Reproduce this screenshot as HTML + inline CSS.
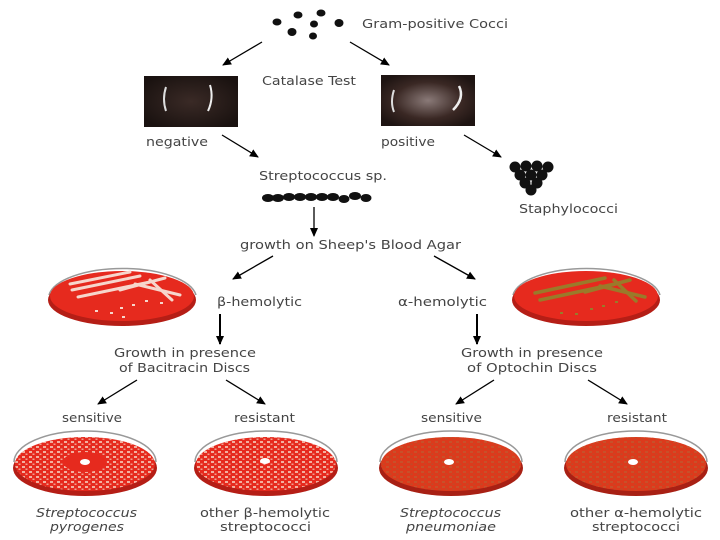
<!DOCTYPE html>
<html><head><meta charset="utf-8"><style>
html,body{margin:0;padding:0;background:#fff;}
svg{display:block;}
text{font-family:"DejaVu Sans","Liberation Sans",sans-serif;font-size:12px;fill:#444;}
</style></head><body>
<svg width="720" height="540" viewBox="0 0 720 540" xmlns="http://www.w3.org/2000/svg">
<defs>
<marker id="ah" markerWidth="10" markerHeight="10" refX="8" refY="5" orient="auto" markerUnits="userSpaceOnUse">
<path d="M0,1 L9,5 L0,9 Z" fill="#000"/></marker>
<pattern id="sp" width="7" height="5" patternUnits="userSpaceOnUse">
<rect x="1" y="1" width="3" height="2" fill="#f3b0a0"/><rect x="4.5" y="3.5" width="2" height="1.5" fill="#f0a090"/></pattern>
<pattern id="sp2" width="7" height="5" patternUnits="userSpaceOnUse">
<rect x="1" y="1" width="3" height="2" fill="#c8502a"/><rect x="4.5" y="3.5" width="2" height="1.5" fill="#c04a28"/></pattern>
<radialGradient id="ph" cx="0.5" cy="0.5" r="0.6"><stop offset="0" stop-color="#8a7a78"/><stop offset="0.6" stop-color="#3a2824"/><stop offset="1" stop-color="#1e1412"/></radialGradient>
<radialGradient id="nh" cx="0.5" cy="0.5" r="0.6"><stop offset="0" stop-color="#3a2a26"/><stop offset="1" stop-color="#1a1210"/></radialGradient>
</defs>

<g fill="#111">
<ellipse cx="277" cy="22" rx="4.5" ry="3.5"/><ellipse cx="298" cy="15" rx="4.5" ry="3.5"/><ellipse cx="321" cy="13" rx="4.5" ry="3.5"/>
<ellipse cx="314" cy="24" rx="4" ry="3.5"/><ellipse cx="339" cy="23" rx="4.5" ry="4"/><ellipse cx="292" cy="32" rx="4.5" ry="4"/><ellipse cx="313" cy="36" rx="4" ry="3.5"/>
</g>
<text x="362" y="28" textLength="146" lengthAdjust="spacingAndGlyphs">Gram-positive Cocci</text>
<g stroke="#000" stroke-width="1.3" marker-end="url(#ah)">
<line x1="262" y1="42" x2="223" y2="65"/><line x1="350" y1="42" x2="389" y2="65"/>
<line x1="222" y1="135" x2="258" y2="157"/><line x1="464" y1="135" x2="501" y2="157"/>
<line x1="314" y1="207" x2="314" y2="236"/>
<line x1="273" y1="256" x2="233" y2="279"/><line x1="434" y1="256" x2="475" y2="279"/>
<line x1="220" y1="314" x2="220" y2="344" stroke-width="2"/><line x1="477" y1="314" x2="477" y2="344" stroke-width="2"/>
<line x1="137" y1="380" x2="98" y2="404"/><line x1="226" y1="380" x2="265" y2="404"/>
<line x1="494" y1="380" x2="456" y2="404"/><line x1="588" y1="380" x2="627" y2="404"/>
</g>

<rect x="144" y="76" width="94" height="51" fill="url(#nh)"/>
<path d="M166,87 q-4,12 0,24" stroke="#ddd" stroke-width="2" fill="none"/>
<path d="M210,85 q4,13 -2,26" stroke="#eee" stroke-width="2" fill="none"/>
<rect x="381" y="75" width="94" height="51" fill="url(#ph)"/>
<path d="M394,90 q-4,12 0,22" stroke="#ddd" stroke-width="2" fill="none"/>
<path d="M459,86 q6,12 -6,24" stroke="#eee" stroke-width="2.5" fill="none"/>
<text x="262" y="85" textLength="94" lengthAdjust="spacingAndGlyphs">Catalase Test</text>
<text x="146" y="146" textLength="62" lengthAdjust="spacingAndGlyphs">negative</text>
<text x="381" y="146" textLength="54" lengthAdjust="spacingAndGlyphs">positive</text>
<text x="259" y="180" textLength="128" lengthAdjust="spacingAndGlyphs">Streptococcus sp.</text>
<g fill="#111">
<ellipse cx="268" cy="198" rx="6" ry="4"/><ellipse cx="278" cy="198" rx="6" ry="4"/><ellipse cx="289" cy="197" rx="6" ry="4"/><ellipse cx="300" cy="197" rx="6" ry="4"/><ellipse cx="311" cy="197" rx="6" ry="4"/><ellipse cx="322" cy="197" rx="6" ry="4"/><ellipse cx="333" cy="197" rx="6" ry="4"/><ellipse cx="344" cy="199" rx="5.5" ry="4"/><ellipse cx="355" cy="196" rx="6" ry="4"/><ellipse cx="366" cy="198" rx="5.5" ry="4"/>
</g>
<g fill="#111">
<circle cx="515" cy="167" r="5.5"/><circle cx="526" cy="166" r="5.5"/><circle cx="537" cy="166" r="5.5"/><circle cx="548" cy="167" r="5.5"/>
<circle cx="520" cy="175" r="5.5"/><circle cx="531" cy="175" r="5.5"/><circle cx="542" cy="175" r="5.5"/>
<circle cx="525" cy="183" r="5.5"/><circle cx="537" cy="183" r="5.5"/><circle cx="531" cy="190" r="5.5"/>
</g>
<text x="519" y="213" textLength="99" lengthAdjust="spacingAndGlyphs">Staphylococci</text>
<text x="240" y="249" textLength="221" lengthAdjust="spacingAndGlyphs">growth on Sheep's Blood Agar</text>

<g>
<path d="M49,295 a74,30 0 0 1 147,0" fill="none" stroke="#999" stroke-width="1.5"/>
<ellipse cx="122" cy="300" rx="74" ry="26" fill="#b51e16"/>
<ellipse cx="122" cy="296" rx="72" ry="25" fill="#e62a1e"/>
<g stroke="#f6d6cc" stroke-width="3" stroke-linecap="round">
<line x1="72" y1="290" x2="140" y2="276"/><line x1="78" y1="297" x2="150" y2="282"/><line x1="70" y1="284" x2="130" y2="272"/><line x1="120" y1="290" x2="165" y2="278"/>
<line x1="135" y1="284" x2="180" y2="295"/><line x1="150" y1="280" x2="172" y2="300"/></g>
<g fill="#f6d6cc"><rect x="95" y="310" width="3" height="2"/><rect x="110" y="312" width="3" height="2"/><rect x="120" y="307" width="3" height="2"/><rect x="132" y="304" width="3" height="2"/><rect x="145" y="300" width="3" height="2"/><rect x="160" y="302" width="3" height="2"/><rect x="122" y="316" width="3" height="2"/></g>
</g>
<g>
<path d="M513,295 a74,30 0 0 1 147,0" fill="none" stroke="#999" stroke-width="1.5"/>
<ellipse cx="586" cy="300" rx="74" ry="26" fill="#b51e16"/>
<ellipse cx="586" cy="296" rx="72" ry="25" fill="#e62a1e"/>
<g stroke="#9a7a2a" stroke-width="3.5" stroke-linecap="round">
<line x1="535" y1="293" x2="605" y2="278"/><line x1="540" y1="300" x2="615" y2="284"/><line x1="585" y1="292" x2="630" y2="280"/>
<line x1="600" y1="286" x2="645" y2="297"/><line x1="614" y1="280" x2="636" y2="301"/></g>
<g fill="#9a7a2a"><rect x="560" y="312" width="3" height="2"/><rect x="575" y="313" width="3" height="2"/><rect x="590" y="308" width="3" height="2"/><rect x="602" y="305" width="3" height="2"/><rect x="615" y="301" width="3" height="2"/></g>
</g>
<text x="217" y="306" textLength="85" lengthAdjust="spacingAndGlyphs">β-hemolytic</text>
<text x="398" y="306" textLength="89" lengthAdjust="spacingAndGlyphs">α-hemolytic</text>

<text x="114" y="357" textLength="142" lengthAdjust="spacingAndGlyphs">Growth in presence</text>
<text x="119" y="372" textLength="131" lengthAdjust="spacingAndGlyphs">of Bacitracin Discs</text>
<text x="461" y="357" textLength="142" lengthAdjust="spacingAndGlyphs">Growth in presence</text>
<text x="467" y="372" textLength="130" lengthAdjust="spacingAndGlyphs">of Optochin Discs</text>

<text x="62" y="422" textLength="60" lengthAdjust="spacingAndGlyphs">sensitive</text>
<text x="234" y="422" textLength="61" lengthAdjust="spacingAndGlyphs">resistant</text>
<text x="421" y="422" textLength="61" lengthAdjust="spacingAndGlyphs">sensitive</text>
<text x="607" y="422" textLength="60" lengthAdjust="spacingAndGlyphs">resistant</text>

<g>
<path d="M14,462 a71,31 0 0 1 142,0" fill="none" stroke="#999" stroke-width="1.5"/>
<ellipse cx="85" cy="468" rx="72" ry="28" fill="#b51e16"/>
<ellipse cx="85" cy="464" rx="70" ry="27" fill="#e62a1e"/>
<ellipse cx="85" cy="464" rx="70" ry="27" fill="url(#sp)"/>
<ellipse cx="85" cy="462" rx="22" ry="10" fill="#e62a1e"/>
<ellipse cx="85" cy="462" rx="5" ry="3" fill="#fff"/>
</g>
<g>
<path d="M195,462 a71,31 0 0 1 142,0" fill="none" stroke="#999" stroke-width="1.5"/>
<ellipse cx="266" cy="468" rx="72" ry="28" fill="#b51e16"/>
<ellipse cx="266" cy="464" rx="70" ry="27" fill="#e62a1e"/>
<ellipse cx="266" cy="464" rx="70" ry="27" fill="url(#sp)"/>
<ellipse cx="265" cy="461" rx="5" ry="3" fill="#fff"/>
</g>
<g>
<path d="M380,462 a71,31 0 0 1 142,0" fill="none" stroke="#999" stroke-width="1.5"/>
<ellipse cx="451" cy="468" rx="72" ry="28" fill="#a82014"/>
<ellipse cx="451" cy="464" rx="70" ry="27" fill="#dc3a1c"/>
<ellipse cx="451" cy="464" rx="70" ry="27" fill="url(#sp2)"/>
<ellipse cx="449" cy="462" rx="5" ry="3" fill="#fff"/>
</g>
<g>
<path d="M565,462 a71,31 0 0 1 142,0" fill="none" stroke="#999" stroke-width="1.5"/>
<ellipse cx="636" cy="468" rx="72" ry="28" fill="#a82014"/>
<ellipse cx="636" cy="464" rx="70" ry="27" fill="#dc3a1c"/>
<ellipse cx="636" cy="464" rx="70" ry="27" fill="url(#sp2)"/>
<ellipse cx="633" cy="462" rx="5" ry="3" fill="#fff"/>
</g>

<text x="36" y="517" textLength="101" lengthAdjust="spacingAndGlyphs" font-style="italic">Streptococcus</text>
<text x="50" y="531" textLength="74" lengthAdjust="spacingAndGlyphs" font-style="italic">pyrogenes</text>
<text x="200" y="517" textLength="130" lengthAdjust="spacingAndGlyphs">other β-hemolytic</text>
<text x="220" y="531" textLength="91" lengthAdjust="spacingAndGlyphs">streptococci</text>
<text x="400" y="517" textLength="101" lengthAdjust="spacingAndGlyphs" font-style="italic">Streptococcus</text>
<text x="406" y="531" textLength="90" lengthAdjust="spacingAndGlyphs" font-style="italic">pneumoniae</text>
<text x="570" y="517" textLength="132" lengthAdjust="spacingAndGlyphs">other α-hemolytic</text>
<text x="592" y="531" textLength="88" lengthAdjust="spacingAndGlyphs">streptococci</text>
</svg>
</body></html>
